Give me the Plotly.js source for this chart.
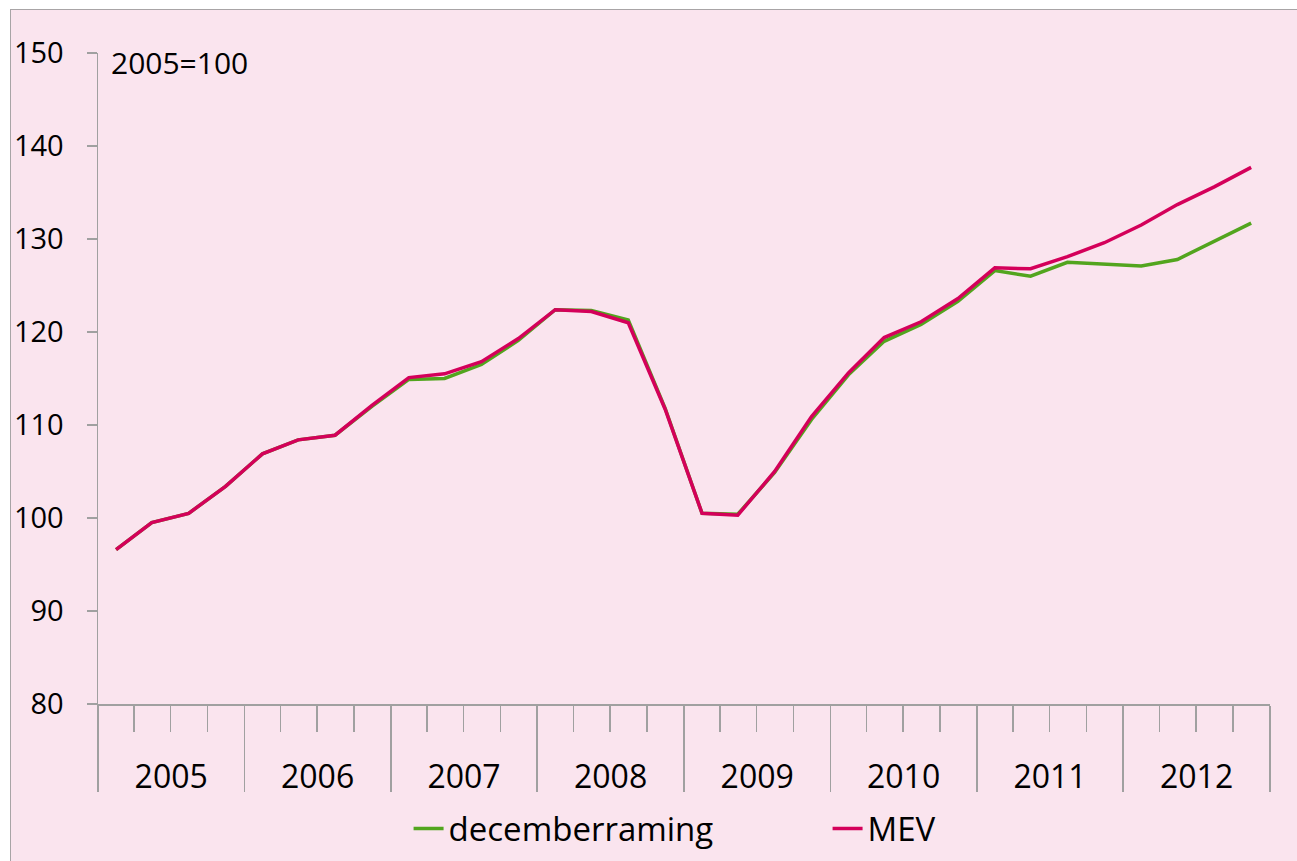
<!DOCTYPE html>
<html>
<head>
<meta charset="utf-8">
<script src="https://cdn.plot.ly/plotly-3.0.1.min.js"></script>
<style>
  html, body { margin: 0; padding: 0; background: #ffffff; overflow: hidden; width: 1297px; height: 861px; }
  #frame { position: absolute; left: 10px; top: 9px; width: 1300px; height: 870px; border: 1.5px solid #a8a4a6; background: #fae4ee; }
  #chart { position: absolute; left: 0; top: 0; width: 1286px; height: 851px; }
</style>
</head>
<body>
<div id="frame"><div id="chart"></div></div>
<script>
// Quarterly observations, 2005Q1 - 2012Q4 (mid-quarter dates)
const quarters = [
  '2005-02-15','2005-05-15','2005-08-15','2005-11-15',
  '2006-02-15','2006-05-15','2006-08-15','2006-11-15',
  '2007-02-15','2007-05-15','2007-08-15','2007-11-15',
  '2008-02-15','2008-05-15','2008-08-15','2008-11-15',
  '2009-02-15','2009-05-15','2009-08-15','2009-11-15',
  '2010-02-15','2010-05-15','2010-08-15','2010-11-15',
  '2011-02-15','2011-05-15','2011-08-15','2011-11-15',
  '2012-02-15','2012-05-15','2012-08-15','2012-11-15'
];
const decemberraming = [
  96.6, 99.5, 100.5, 103.4, 106.9, 108.4, 108.9, 112.0,
  114.9, 115.0, 116.5, 119.1, 122.4, 122.3, 121.3, 111.8,
  100.5, 100.4, 104.9, 110.6, 115.4, 119.0, 120.8, 123.3,
  126.6, 126.0, 127.5, 127.3, 127.1, 127.8, 129.7, 131.7
];
const mev = [
  96.6, 99.5, 100.5, 103.4, 106.9, 108.4, 108.9, 112.1,
  115.1, 115.5, 116.8, 119.3, 122.4, 122.2, 121.0, 111.7,
  100.5, 100.3, 105.0, 110.9, 115.6, 119.4, 121.1, 123.6,
  126.9, 126.8, 128.1, 129.6, 131.5, 133.7, 135.6, 137.7
];
const seriesNames = ['decemberraming', 'MEV'];
const yTicks = [80, 90, 100, 110, 120, 130, 140, 150];
const baseLabel = '2005=100';

const FONT = 'Open Sans, Lato, sans-serif';
const AXIS = '#a0a0a0';

const traces = [
  { x: quarters, y: decemberraming, name: seriesNames[0], type: 'scatter', mode: 'lines',
    line: { color: '#52a51e', width: 3.5 } },
  { x: quarters, y: mev, name: seriesNames[1], type: 'scatter', mode: 'lines',
    line: { color: '#d4005a', width: 3.5 } }
];

const layout = {
  width: 1286, height: 851,
  margin: { l: 87, r: 27, t: 43, b: 157, autoexpand: false },
  paper_bgcolor: 'rgba(0,0,0,0)',
  plot_bgcolor: 'rgba(0,0,0,0)',
  font: { family: FONT, color: '#000000', size: 28 },
  showlegend: true,
  legend: {
    orientation: 'h', x: 0.265, xanchor: 'left',
    yref: 'container', y: 0.038, yanchor: 'middle',
    font: { family: FONT, size: 33, color: '#000' },
    entrywidth: 374, entrywidthmode: 'pixels',
    bgcolor: 'rgba(0,0,0,0)'
  },
  xaxis: {
    type: 'date',
    range: ['2005-01-01', '2013-01-01'],
    tick0: '2005-01-01', dtick: 'M12',
    tickformat: '%Y',
    ticklabelmode: 'period',
    ticks: 'outside', ticklen: 86, tickwidth: 1.5, tickcolor: AXIS,
    minor: { dtick: 'M3', ticks: 'outside', ticklen: 26, tickwidth: 1.5, tickcolor: AXIS, showgrid: false },
    ticklabelstandoff: -42,
    tickfont: { family: FONT, size: 32, color: '#000' },
    showline: true, linecolor: AXIS, linewidth: 1.5,
    showgrid: false, zeroline: false, fixedrange: true, automargin: false
  },
  yaxis: {
    range: [80, 150],
    tickvals: yTicks,
    ticks: 'outside', ticklen: 10, tickwidth: 1.5, tickcolor: AXIS,
    ticklabelstandoff: 17,
    tickfont: { family: FONT, size: 29, color: '#000' },
    showline: true, linecolor: AXIS, linewidth: 1.5,
    showgrid: false, zeroline: false, fixedrange: true, automargin: false
  },
  annotations: [
    { text: baseLabel, xref: 'paper', yref: 'paper', x: 0.009, y: 0.986,
      xanchor: 'left', yanchor: 'middle', showarrow: false,
      font: { family: FONT, size: 30, color: '#000' } }
  ]
};

Plotly.newPlot('chart', traces, layout, { displayModeBar: false, staticPlot: true });
</script>
</body>
</html>
